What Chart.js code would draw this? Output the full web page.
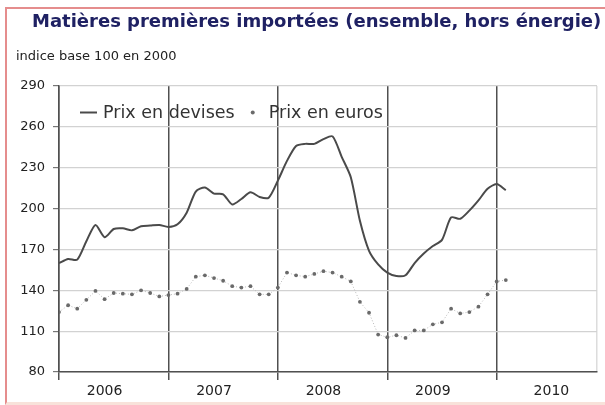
<!DOCTYPE html>
<html>
<head>
<meta charset="utf-8">
<script src="https://cdn.jsdelivr.net/npm/chart.js@4.4.0/dist/chart.umd.min.js"></script>
<style>
  html, body { margin: 0; padding: 0; background: #fff; overflow: hidden; }
  #wrap { position: relative; width: 605px; height: 405px; overflow: hidden; }
  #frame {
    position: absolute; left: 5px; top: 7px; width: 640px; height: 393px;
    border-left: 2px solid #e58d8d; border-top: 2px solid #e58d8d;
    border-bottom: 3px solid #f8e2da;
  }
  canvas { position: absolute; left: 0; top: 0; }
</style>
</head>
<body>
<div id="wrap">
  <div id="frame"></div>
  <canvas id="chart" width="605" height="405"></canvas>
</div>
<script>
const TITLE = 'Matières premières importées (ensemble, hors énergie)';
const SUBTITLE = 'indice base 100 en 2000';
const SERIES_NAMES = ['Prix en devises', 'Prix en euros'];

// Monthly index values, January 2006 to February 2010 (base 100 in 2000)
const prixDevises = [
  160, 163, 162.5, 176, 188, 179, 185, 185.5, 184, 187, 187.5, 188,
  186.5, 188.5, 197, 212.5, 215.5, 211, 210.5, 203, 207, 212, 208.5, 208,
  220.5, 235, 246, 247.5, 247.5, 251, 253, 238, 223, 191, 169, 159,
  153, 150.5, 151, 160, 167, 172.5, 177, 193.5, 192.5, 198.5, 206, 214.5,
  218, 213.5
];
const prixEuros = [
  124, 129, 126.5, 133, 139.5, 133.5, 138, 137.5, 137, 140, 138, 135.5,
  136.5, 137.5, 141, 150, 151, 149, 147, 143, 142, 143, 137, 137,
  142, 153, 151, 150, 152, 154, 153, 150, 146.5, 131.5, 123.5, 107.5,
  105.5, 107, 105, 110.5, 110.5, 115, 116.5, 126.5, 123, 124, 128, 137,
  146.5, 147.5
];

// Axis layout: months counted from January 2006
const years = ['2006', '2007', '2008', '2009', '2010'];
const yearStartMonth = [0, 12, 24, 36, 48];
const yearLabelMonth = [5, 17, 29, 41, 54];
const lastMonth = 59;
const yTicks = [80, 110, 140, 170, 200, 230, 260, 290];

const FONT = '"DejaVu Sans", Verdana, sans-serif';
const DARK = '#505050';

const headings = {
  id: 'headings',
  afterDraw(chart) {
    const ctx = chart.ctx;
    ctx.save();
    ctx.textBaseline = 'alphabetic';
    ctx.textAlign = 'left';
    ctx.fillStyle = '#1f2163';
    ctx.font = 'bold 18px ' + FONT;
    ctx.fillText(TITLE, 32, 27);
    ctx.fillStyle = '#222';
    ctx.font = '13px ' + FONT;
    ctx.fillText(SUBTITLE, 16, 60);
    ctx.restore();
  }
};

const insideLegend = {
  id: 'insideLegend',
  afterDatasetsDraw(chart) {
    const ctx = chart.ctx;
    const area = chart.chartArea;
    const ds = chart.data.datasets;
    const y = area.top + 26.5;
    ctx.save();
    ctx.font = '17.5px ' + FONT;
    ctx.textBaseline = 'middle';
    ctx.textAlign = 'left';
    let x = area.left + 21;
    // solid line sample
    ctx.strokeStyle = ds[0].borderColor;
    ctx.lineWidth = ds[0].borderWidth;
    ctx.beginPath();
    ctx.moveTo(x, y);
    ctx.lineTo(x + 17, y);
    ctx.stroke();
    ctx.fillStyle = '#333';
    ctx.fillText(ds[0].label, x + 23, y + 1);
    x = x + 23 + ctx.measureText(ds[0].label).width + 18;
    // marker sample
    ctx.fillStyle = ds[1].pointBackgroundColor;
    ctx.beginPath();
    ctx.arc(x, y, 2, 0, Math.PI * 2);
    ctx.fill();
    ctx.fillStyle = '#333';
    ctx.fillText(ds[1].label, x + 16, y + 1);
    ctx.restore();
  }
};

new Chart(document.getElementById('chart'), {
  type: 'line',
  data: {
    datasets: [
      {
        label: SERIES_NAMES[0],
        data: prixDevises.map((v, i) => ({ x: i, y: v })),
        borderColor: '#4a4a4a',
        borderWidth: 2,
        pointRadius: 0,
        tension: 0.25,
        fill: false
      },
      {
        label: SERIES_NAMES[1],
        data: prixEuros.map((v, i) => ({ x: i, y: v })),
        borderColor: '#b8b8b8',
        borderWidth: 1,
        borderDash: [1, 2],
        pointRadius: 1.9,
        pointBackgroundColor: '#6a6a6a',
        pointBorderWidth: 0,
        tension: 0,
        fill: false
      }
    ]
  },
  options: {
    responsive: false,
    animation: false,
    devicePixelRatio: 1,
    layout: { padding: { left: 5, right: 8, top: 86, bottom: 0 } },
    plugins: { legend: { display: false }, tooltip: { enabled: false } },
    scales: {
      x: {
        type: 'linear',
        min: 0,
        max: lastMonth,
        afterBuildTicks(scale) {
          const vals = [...yearStartMonth, ...yearLabelMonth, lastMonth].sort((a, b) => a - b);
          scale.ticks = vals.map(v => ({ value: v }));
        },
        afterFit(scale) { scale.height = 33; },
        ticks: {
          autoSkip: false,
          maxRotation: 0,
          padding: 3,
          color: '#222',
          font: { family: FONT, size: 14 },
          callback(value) {
            const k = yearLabelMonth.indexOf(value);
            return k >= 0 ? years[k] : '';
          }
        },
        grid: {
          tickLength: 8,
          lineWidth: 1.5,
          color(ctx) {
            const v = ctx.tick && ctx.tick.value;
            if (yearStartMonth.includes(v)) return DARK;
            if (v === lastMonth) return '#dcdcdc';
            return 'rgba(0,0,0,0)';
          },
          tickColor(ctx) {
            const v = ctx.tick && ctx.tick.value;
            return yearStartMonth.includes(v) ? DARK : 'rgba(0,0,0,0)';
          }
        },
        border: { display: true, color: DARK, width: 1.5 }
      },
      y: {
        min: 80,
        max: 290,
        afterBuildTicks(scale) { scale.ticks = yTicks.map(v => ({ value: v })); },
        afterFit(scale) { scale.width = 54; },
        ticks: {
          padding: 8,
          color: '#222',
          font: { family: FONT, size: 13 }
        },
        grid: {
          tickLength: 6,
          lineWidth: 1.2,
          color: '#d2d2d2',
          tickColor: '#777'
        },
        border: { display: true, color: DARK, width: 1.5 }
      }
    }
  },
  plugins: [headings, insideLegend]
});
</script>
</body>
</html>
